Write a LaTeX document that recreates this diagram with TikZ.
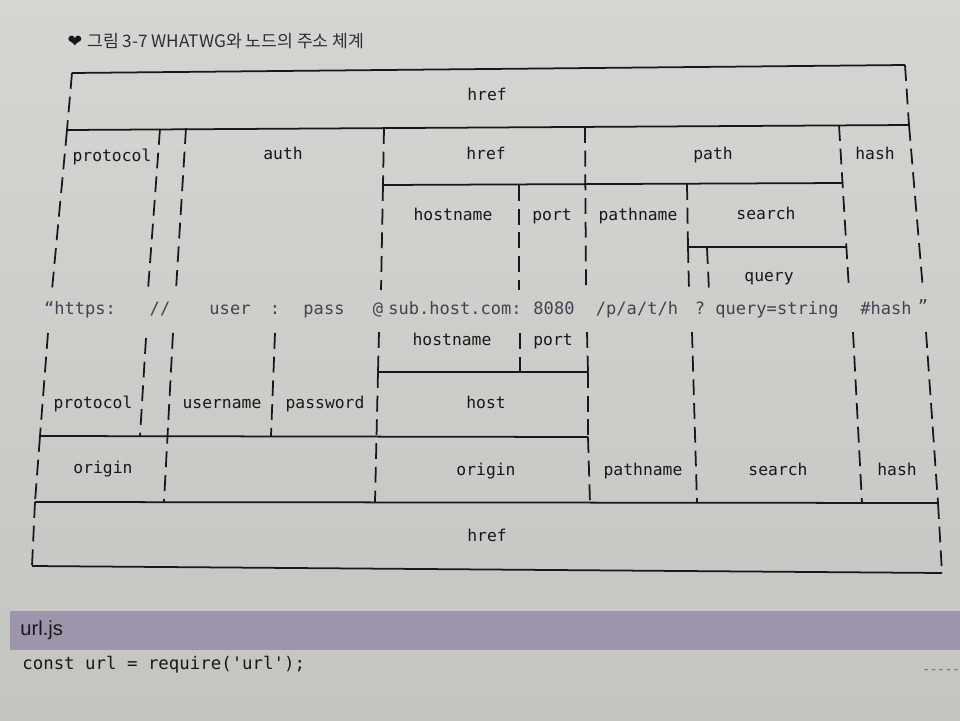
\documentclass[tikz,border=0pt]{standalone}
\usepackage{fontspec}
\newfontfamily\monofont{DejaVu Sans Mono}
\newfontfamily\hangulfont{Noto Sans CJK KR}
\newfontfamily\symbfont{DejaVu Sans}
\newfontfamily\bandfont{Liberation Sans}
\definecolor{paperlight}{RGB}{211,214,209}
\definecolor{paperdark}{RGB}{194,197,192}
\definecolor{ink}{RGB}{24,24,24}
\definecolor{urlink}{RGB}{70,64,82}
\definecolor{band}{RGB}{158,149,172}

\begin{document}
\begin{tikzpicture}[x=0.02cm, y=-0.02cm,
  bar/.style={color=ink, line width=1pt},
  sep/.style={color=ink, line width=1pt, dash pattern=on 9pt off 4.5pt},
  lbl/.style={font=\monofont\fontsize{9.3}{11}\selectfont, text=ink, inner sep=0pt, text height=0.75em, text depth=0.25em},
  url/.style={font=\monofont\fontsize{9.7}{11}\selectfont, text=urlink, inner sep=0pt, text height=0.75em, text depth=0.25em}]

  % Bounding box of the page
  \useasboundingbox (0,0) rectangle (960,720) ;
  \shade[top color=paperlight, bottom color=paperdark] (0,0) rectangle (960,720) ;

  %%%%%%%%%%%%%%%%%%%%%%%%%%%%%%%%% Title %%%%%%%%%%%%%%%%%%%%%%%%%%%%%%%%%%%%
  \draw (75,42) node (mark) [font=\symbfont\fontsize{10}{12}\selectfont, text=ink] {❤} ;
  \draw (87,41) node (title) [anchor=west, inner sep=0pt, font=\hangulfont\fontsize{9.8}{11}\selectfont, text=ink!90] {그림 3-7 WHATWG와 노드의 주소 체계} ;

  %%%%%%%%%%%%%%%%%%%%%%%%%%%%%%%%% Points, upper half %%%%%%%%%%%%%%%%%%%%%%%%%%%%%%%%%%%%
  % Corners of the href box
  \draw (72,73) coordinate (1) ;
  \draw (905,65) coordinate (2) ;
  \draw (67,130) coordinate (3) ;
  \draw (909,125) coordinate (4) ;

  % Feet of the separators above the url
  \draw (52,290) coordinate (5) ;
  \draw (160,129) coordinate (6) ;
  \draw (148,290) coordinate (7) ;
  \draw (186,128) coordinate (8) ;
  \draw (176,290) coordinate (9) ;
  \draw (384,128) coordinate (10) ;
  \draw (381,290) coordinate (11) ;
  \draw (585,127) coordinate (12) ;
  \draw (586,290) coordinate (13) ;
  \draw (839,125) coordinate (14) ;
  \draw (849,290) coordinate (15) ;
  \draw (923,290) coordinate (16) ;
  \draw (519,185) coordinate (17) ;
  \draw (519,290) coordinate (18) ;
  \draw (687,184) coordinate (19) ;
  \draw (689,290) coordinate (20) ;
  \draw (707,248) coordinate (21) ;
  \draw (709,290) coordinate (22) ;
  \draw (383,185) coordinate (23) ;
  \draw (843,183) coordinate (24) ;
  \draw (688,247) coordinate (25) ;
  \draw (846,247) coordinate (26) ;

  %%%%%%%%%%%%%%%%%%%%%%%%%%%%%%%%% Points, lower half %%%%%%%%%%%%%%%%%%%%%%%%%%%%%%%%%%%%
  \draw (48,333) coordinate (27) ;
  \draw (40,436) coordinate (28) ;
  \draw (35,502) coordinate (29) ;
  \draw (32,566) coordinate (30) ;
  \draw (146,338) coordinate (31) ;
  \draw (140,436) coordinate (32) ;
  \draw (173,333) coordinate (33) ;
  \draw (164,502) coordinate (34) ;
  \draw (275,333) coordinate (35) ;
  \draw (271,436) coordinate (36) ;
  \draw (379,332) coordinate (37) ;
  \draw (378,372) coordinate (38) ;
  \draw (375,502) coordinate (40) ;
  \draw (520,333) coordinate (41) ;
  \draw (520,372) coordinate (42) ;
  \draw (587,332) coordinate (43) ;
  \draw (588,372) coordinate (44) ;
  \draw (588,437) coordinate (45) ;
  \draw (590,503) coordinate (46) ;
  \draw (692,332) coordinate (47) ;
  \draw (697,503) coordinate (48) ;
  \draw (853,332) coordinate (49) ;
  \draw (862,503) coordinate (50) ;
  \draw (926,332) coordinate (51) ;
  \draw (938,503) coordinate (52) ;
  \draw (942,573) coordinate (53) ;

  %%%%%%%%%%%%%%%%%%%%%%%%%%%%%%%%% Solid bars %%%%%%%%%%%%%%%%%%%%%%%%%%%%%%%%%%%%
  \foreach \a/\b in {1/2, 3/4, 23/24, 25/26, 38/44, 28/45, 29/52, 30/53} {
    \draw[bar] (\a) -- (\b) ;
  }

  %%%%%%%%%%%%%%%%%%%%%%%%%%%%%%%%% Dashed separators %%%%%%%%%%%%%%%%%%%%%%%%%%%%%%%%%%%%
  \foreach \a/\b in {1/3, 2/4, 3/5, 6/7, 8/9, 10/23, 23/11, 12/13, 14/15, 4/16, 17/18, 19/25, 25/20, 21/22} {
    \draw[sep] (\a) -- (\b) ;
  }
  \foreach \a/\b in {27/28, 28/29, 29/30, 31/32, 33/34, 35/36, 37/38, 38/40, 41/42, 43/44, 44/45, 45/46, 47/48, 49/50, 51/52, 52/53} {
    \draw[sep] (\a) -- (\b) ;
  }

  %%%%%%%%%%%%%%%%%%%%%%%%%%%%%%%%% Labels above %%%%%%%%%%%%%%%%%%%%%%%%%%%%%%%%%%%%
  \draw (487,96) node[lbl] (hreftop) {href} ;
  \draw (112,157) node[lbl] (proto) {protocol} ;
  \draw (283,155) node[lbl] (auth) {auth} ;
  \draw (486,155) node[lbl] (hrefhost) {href} ;
  \draw (713,155) node[lbl] (path) {path} ;
  \draw (875,155) node[lbl] (hash) {hash} ;
  \draw (453,216) node[lbl] (hostname) {hostname} ;
  \draw (552,216) node[lbl] (port) {port} ;
  \draw (638,216) node[lbl] (pathname) {pathname} ;
  \draw (766,215) node[lbl] (search) {search} ;
  \draw (769,277) node[lbl] (query) {query} ;

  %%%%%%%%%%%%%%%%%%%%%%%%%%%%%%%%% The url %%%%%%%%%%%%%%%%%%%%%%%%%%%%%%%%%%%%
  \draw (80,310) node[url] (u1) {“https:} ;
  \draw (160,310) node[url] (u2) {//} ;
  \draw (230,310) node[url] (u3) {user} ;
  \draw (275,310) node[url] (u4) {:} ;
  \draw (324,310) node[url] (u5) {pass} ;
  \draw (378,310) node[url] (u6) {@} ;
  \draw (455,310) node[url] (u7) {sub.host.com:} ;
  \draw (554,310) node[url] (u8) {8080} ;
  \draw (637,310) node[url] (u9) {/p/a/t/h} ;
  \draw (700,310) node[url] (u10) {?} ;
  \draw (777,310) node[url] (u11) {query=string} ;
  \draw (886,310) node[url] (u12) {\#hash} ;
  \draw (923,308) node[url] (u13) {”} ;

  %%%%%%%%%%%%%%%%%%%%%%%%%%%%%%%%% Labels below %%%%%%%%%%%%%%%%%%%%%%%%%%%%%%%%%%%%
  \draw (452,341) node[lbl] (hostnameb) {hostname} ;
  \draw (553,341) node[lbl] (portb) {port} ;
  \draw (93,404) node[lbl] (protob) {protocol} ;
  \draw (222,404) node[lbl] (username) {username} ;
  \draw (325,404) node[lbl] (password) {password} ;
  \draw (486,404) node[lbl] (host) {host} ;
  \draw (103,469) node[lbl] (origin1) {origin} ;
  \draw (486,471) node[lbl] (origin2) {origin} ;
  \draw (643,471) node[lbl] (pathnameb) {pathname} ;
  \draw (778,471) node[lbl] (searchb) {search} ;
  \draw (897,471) node[lbl] (hashb) {hash} ;
  \draw (487,537) node[lbl] (hrefb) {href} ;

  %%%%%%%%%%%%%%%%%%%%%%%%%%%%%%%%% Code listing %%%%%%%%%%%%%%%%%%%%%%%%%%%%%%%%%%%%
  \fill[band] (10,611) rectangle (960,650) ;
  \draw (20,630) node[anchor=west, inner sep=0pt, font=\bandfont\fontsize{11.5}{13}\selectfont, text=ink] (file) {url.js} ;
  \draw (22,665) node[anchor=west, inner sep=0pt, font=\monofont\fontsize{9.9}{12}\selectfont, text=ink] (code) {const url = require('url');} ;
  \draw (960,672) node[anchor=east, inner sep=0pt, font=\monofont\fontsize{7}{8}\selectfont, text=ink!70] (more) {-----} ;

\end{tikzpicture}
\end{document}
